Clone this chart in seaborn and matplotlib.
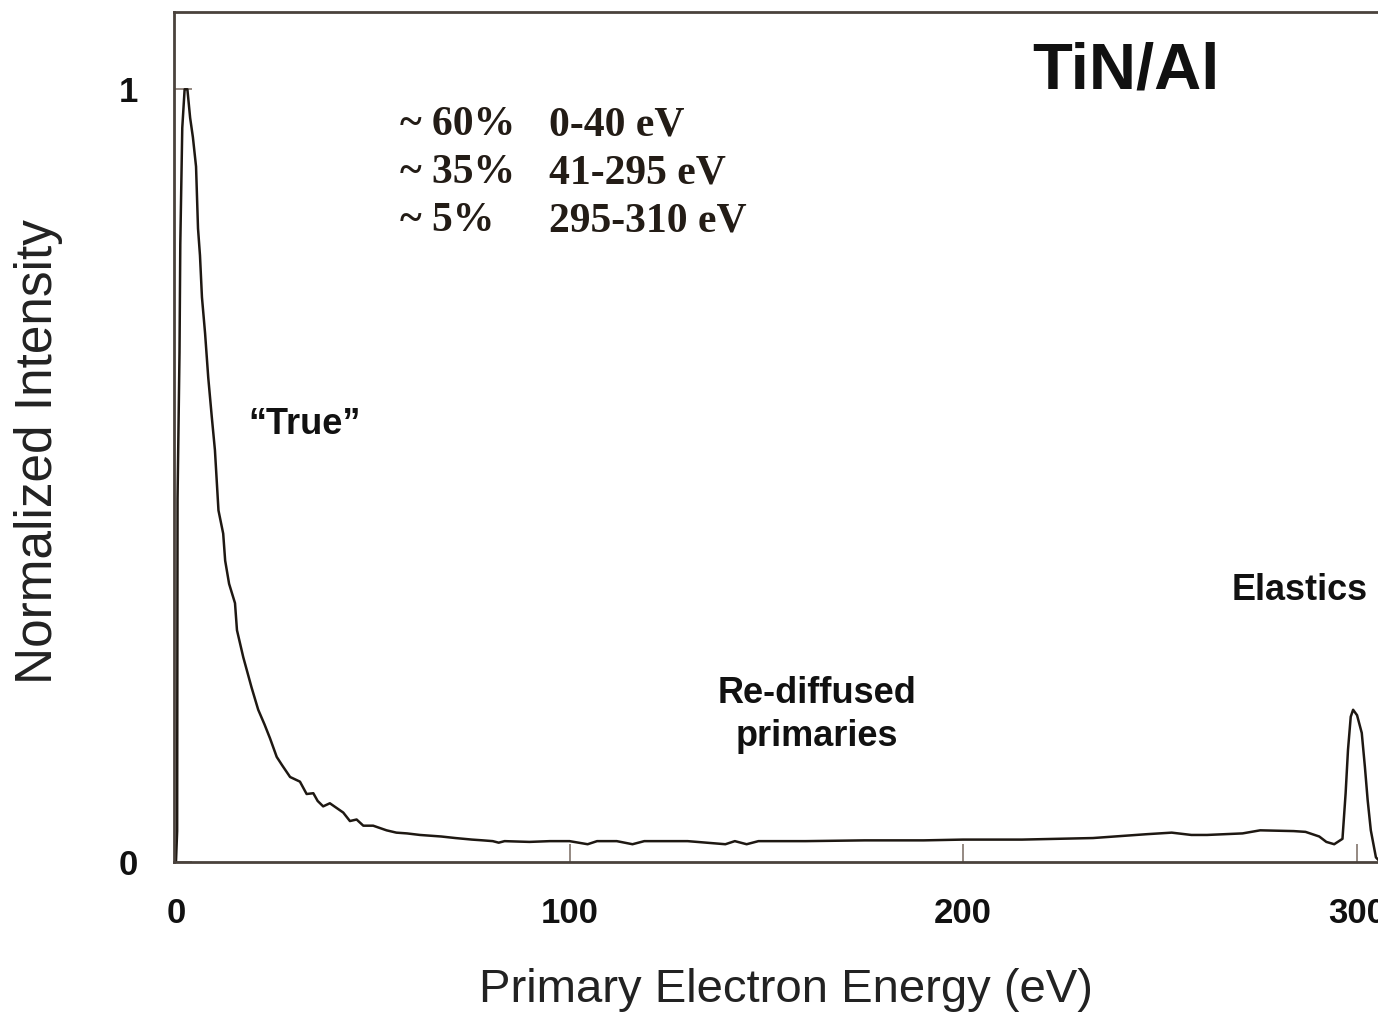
import numpy as np
import pandas as pd
import matplotlib
matplotlib.use("Agg")
import matplotlib.pyplot as plt
import seaborn as sns

# ---- data ----
energy = [0.0, 0.3, 0.4, 0.9, 1.1, 1.6, 2.2, 2.9, 3.6, 4.3, 5.1, 5.6, 6.1, 6.6,
          7.4, 8.2, 9.1, 9.9, 10.8, 12.0, 12.5, 13.5, 15.0, 15.5, 17.1, 19.2,
          20.9, 22.5, 23.9, 25.6, 27.0, 29.0, 31.5, 33.2, 34.9, 36.0, 37.4,
          39.1, 42.5, 44.2, 45.9, 47.6, 50.1, 53.5, 56.0, 58.7, 62.0, 67.4,
          71.0, 75.2, 78.0, 80.5, 82.0, 83.5, 89.8, 95.0, 100.0, 104.6, 107.0,
          112.0, 116.0, 119.0, 130.0, 139.6, 142.0, 145.0, 148.0, 160.0, 175.0,
          190.0, 200.0, 215.0, 233.0, 246.7, 253.0, 258.0, 262.0, 271.0, 275.5,
          284.0, 287.0, 290.5, 292.3, 294.3, 296.4, 297.2, 297.8, 298.5, 299.1,
          300.1, 301.3, 302.1, 302.8, 303.6, 304.9, 306.0]
intensity = [0.0, 0.04, 0.47, 0.66, 0.80, 0.95, 1.0, 1.0, 0.963, 0.938, 0.90,
             0.82, 0.785, 0.731, 0.684, 0.627, 0.576, 0.533, 0.455, 0.425, 0.39,
             0.360, 0.335, 0.300, 0.265, 0.226, 0.197, 0.178, 0.160, 0.136,
             0.125, 0.110, 0.104, 0.088, 0.089, 0.079, 0.072, 0.076, 0.064,
             0.053, 0.055, 0.047, 0.047, 0.041, 0.038, 0.037, 0.035, 0.033,
             0.031, 0.029, 0.028, 0.027, 0.025, 0.027, 0.026, 0.027, 0.027,
             0.023, 0.027, 0.027, 0.023, 0.027, 0.027, 0.023, 0.027, 0.023,
             0.027, 0.027, 0.028, 0.028, 0.029, 0.029, 0.031, 0.036, 0.038,
             0.035, 0.035, 0.037, 0.041, 0.040, 0.039, 0.033, 0.026, 0.023,
             0.030, 0.089, 0.145, 0.188, 0.197, 0.190, 0.167, 0.123, 0.080,
             0.041, 0.006, 0.0]

x_ticks = [0, 100, 200, 300]
y_ticks = [0, 1]

fractions = ["~ 60%", "~ 35%", "~ 5%"]
ranges = ["0-40 eV", "41-295 eV", "295-310 eV"]

df = pd.DataFrame({"energy": energy, "intensity": intensity})

# ---- styling ----
sns.set_style("white")
plt.rcParams["font.family"] = ["Liberation Sans", "DejaVu Sans"]

W, H = 1378, 1016
fig = plt.figure(figsize=(W / 100, H / 100), dpi=100)

def fx(px):
    return px / W

def fy(py):
    return 1 - py / H

left_px, right_px, top_px, bot_px = 174, 1396, 12, 862
ax = fig.add_axes([fx(left_px), fy(bot_px), (right_px - left_px) / W,
                   (bot_px - top_px) / H])

spine_col = "#4a423c"
tick_col = "#8c8078"
line_col = "#1e1812"
text_col = "#111111"

sns.lineplot(data=df, x="energy", y="intensity", ax=ax, color=line_col,
             linewidth=1.8, sort=False, estimator=None)

ax.set_xlim(-0.5, 310)
ax.set_ylim(0, 1.10)
ax.set_xticks(x_ticks)
ax.set_yticks(y_ticks)
ax.set_xticklabels([str(t) for t in x_ticks], fontsize=25, fontweight="bold",
                   color=text_col)
ax.set_yticklabels([str(t) for t in y_ticks], fontsize=25, fontweight="bold",
                   color=text_col)
ax.tick_params(axis="both", direction="in", length=13, width=1.3,
               color=tick_col, bottom=True, left=True)
ax.tick_params(axis="x", pad=25)
ax.tick_params(axis="y", pad=26)

for s in ["left", "bottom", "top", "right"]:
    ax.spines[s].set_color(spine_col)
    ax.spines[s].set_linewidth(2.0)
    ax.spines[s].set_visible(True)

ax.set_xlabel("Primary Electron Energy (eV)", fontsize=34, color="#222222")
ax.set_ylabel("Normalized Intensity", fontsize=37, color="#222222")
ax.xaxis.label.set_va("center")
ax.yaxis.label.set_va("center")
ax.xaxis.set_label_coords((786 - left_px) / (right_px - left_px),
                          (bot_px - 990) / (bot_px - top_px))
ax.yaxis.set_label_coords((38 - left_px) / (right_px - left_px),
                          (bot_px - 451) / (bot_px - top_px))

# ---- annotations ----
fig.text(fx(1126), fy(72), "TiN/Al", fontsize=47, fontweight="bold",
         ha="center", va="center", color=text_col)
fig.text(fx(305), fy(425), "\u201cTrue\u201d", fontsize=26, fontweight="bold",
         ha="center", va="center", color=text_col)
fig.text(fx(1300), fy(591), "Elastics", fontsize=26, fontweight="bold",
         ha="center", va="center", color=text_col)
fig.text(fx(817), fy(715), "Re-diffused\nprimaries", fontsize=26,
         fontweight="bold", ha="center", va="center", color=text_col,
         linespacing=1.3)

row_y = [125, 173, 221]
for fr, rg, yy in zip(fractions, ranges, row_y):
    fig.text(fx(400), fy(yy), fr, fontsize=30, fontweight="bold",
             family=["Liberation Serif", "DejaVu Serif"], ha="left",
             va="center", color="#231c16")
    fig.text(fx(549), fy(yy), rg, fontsize=30, fontweight="bold",
             family=["Liberation Serif", "DejaVu Serif"], ha="left",
             va="center", color="#231c16")

fig.savefig("out.png", dpi=100)
